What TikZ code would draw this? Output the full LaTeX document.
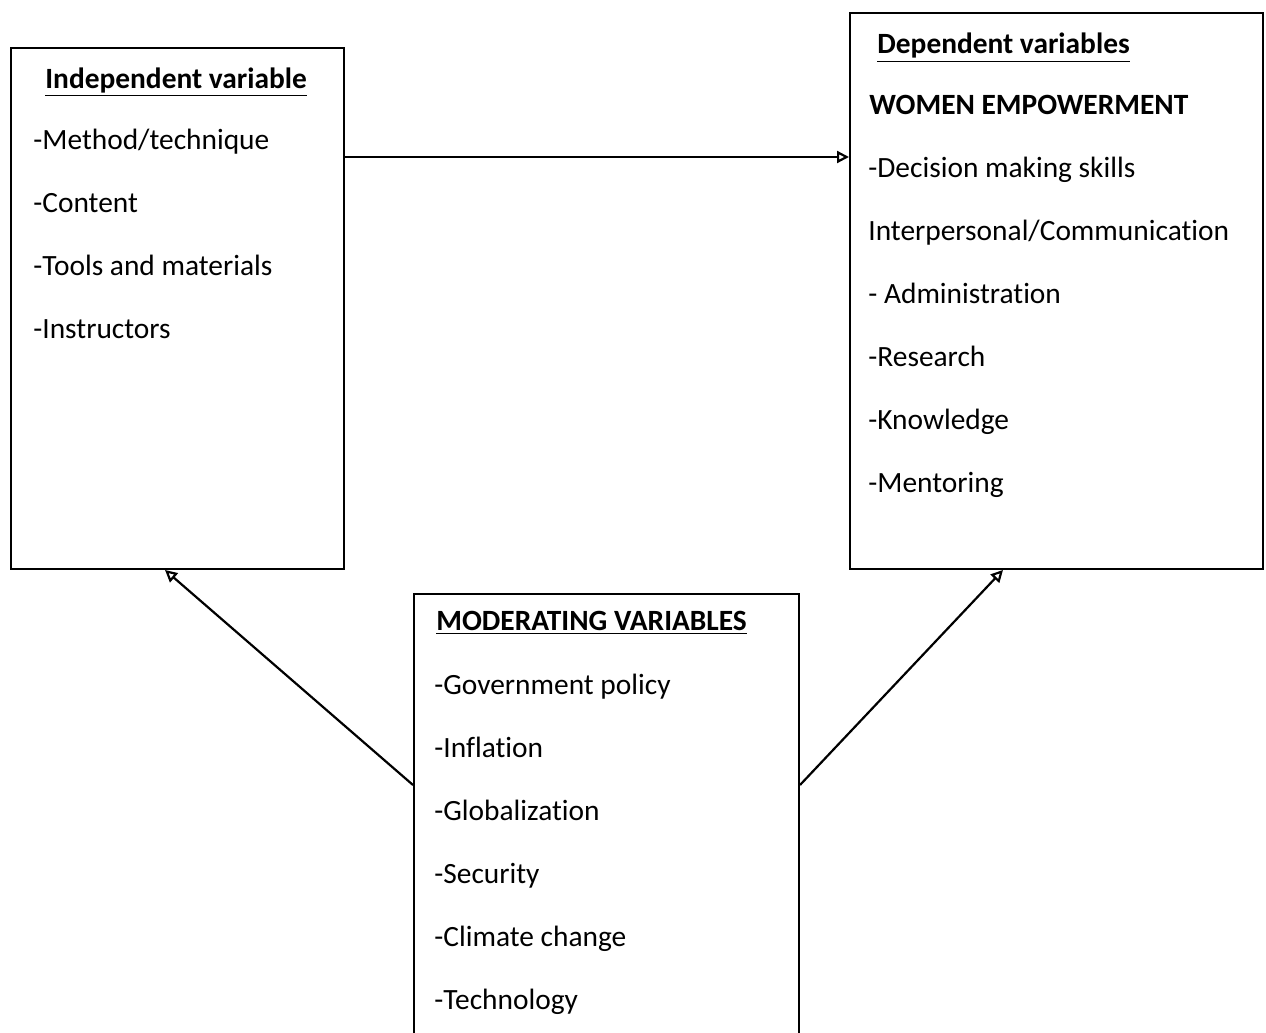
\documentclass[tikz,border=0pt]{standalone}
\usepackage{fontspec}
\setmainfont{Carlito}[Ligatures={NoCommon}]
\usetikzlibrary{arrows.meta}

\newcommand{\headline}[1]{\underline{#1}}

\tikzset{
  box/.style={draw, line width=1pt, anchor=north west, inner sep=0pt},
  item/.style={anchor=base west, inner sep=0pt, font=\fontsize{14.7}{16}\selectfont},
  head/.style={item, font=\fontsize{14.7}{16}\selectfont\bfseries},
  link/.style={line width=1.1pt, -{Triangle[open, length=6pt, width=6pt]}}
}

\begin{document}
\begin{tikzpicture}[x=0.5pt,y=-0.5pt]
    \clip (0,0) rectangle (1266,1033);
    % the three boxes
    \node[box, minimum width=166.5pt, minimum height=260.5pt] (indep) at (10,47) {};
    \node[box, minimum width=206.5pt, minimum height=278pt] (dep) at (849,12) {};
    \node[box, minimum width=192.5pt, minimum height=270pt] (moder) at (413,593) {};

    % independent variable
    \node[head] (ihead) at (45,88) {\headline{Independent variable}};
    \foreach \t [count=\i] in {-Method/technique, -Content, -Tools and materials, -Instructors}
      \node[item] (i\i) at (33,86+63*\i) {\t};

    % dependent variables
    \node[head] (dhead) at (877,54) {\headline{Dependent variables}};
    \node[head] (dsub) at (869,114) {WOMEN EMPOWERMENT};
    \foreach \t [count=\i] in {-Decision making skills, Interpersonal/Communication, - Administration, -Research, -Knowledge, -Mentoring}
      \node[item] (d\i) at (868,114+63*\i) {\t};

    % moderating variables
    \node[head] (mhead) at (436,630) {\headline{MODERATING VARIABLES}};
    \foreach \t [count=\i] in {-Government policy, -Inflation, -Globalization, -Security, -Climate change, -Technology}
      \node[item] (m\i) at (434,631+63*\i) {\t};

    % connectors
    \coordinate (top) at (0,157);
    \coordinate (mid) at (0,785);
    \coordinate (lfoot) at (165,0);
    \coordinate (rfoot) at (1003,0);
    \draw[link] (indep.east |- top) -- (dep.west |- top);
    \draw[link] (moder.west |- mid) -- (indep.south -| lfoot);
    \draw[link] (moder.east |- mid) -- (dep.south -| rfoot);
\end{tikzpicture}
\end{document}
